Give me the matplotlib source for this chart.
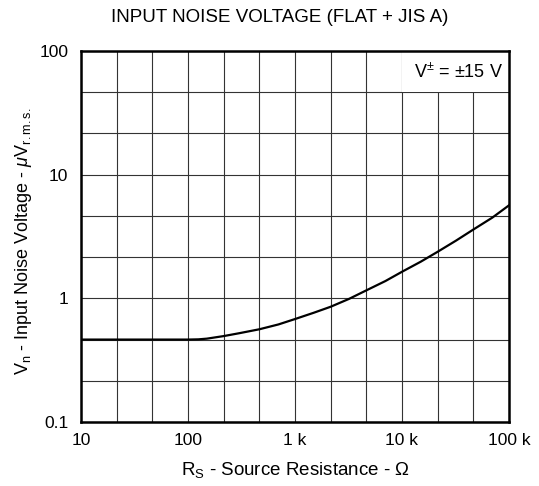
import numpy as np
import matplotlib
matplotlib.use("Agg")
import matplotlib.pyplot as plt
from matplotlib.patches import Rectangle

plt.rcParams['font.family'] = ['Liberation Sans', 'DejaVu Sans']
plt.rcParams['mathtext.fontset'] = 'custom'
plt.rcParams['mathtext.rm'] = 'Liberation Sans'
plt.rcParams['mathtext.it'] = 'Liberation Sans:italic'
plt.rcParams['mathtext.bf'] = 'Liberation Sans:bold'

# Data
rs_ohm = [10, 100, 125, 150, 215, 300, 464, 700, 1000, 1500, 2154, 3200,
          4642, 7000, 10000, 15000, 21544, 32000, 46416, 70000, 100000]
vn_uv = [0.464, 0.464, 0.466, 0.472, 0.495, 0.522, 0.562, 0.615, 0.68, 0.765,
         0.855, 0.99, 1.16, 1.38, 1.64, 1.98, 2.38, 2.93, 3.6, 4.5, 5.65]

x_major = [10, 100, 1000, 10000, 100000]
x_major_labels = ['10', '100', '1 k', '10 k', '100 k']
y_major = [0.1, 1, 10, 100]
y_major_labels = ['0.1', '1', '10', '100']

fig = plt.figure(figsize=(5.39, 4.86), dpi=100)
ax = fig.add_axes([81/539, 1-422/486, (509-81)/539, (422-51)/486])

ax.set_xscale('log')
ax.set_yscale('log')
ax.set_xlim(10, 100000)
ax.set_ylim(0.1, 100)


def label_for(v, majors, labels):
    for m, l in zip(majors, labels):
        if abs(v - m) / m < 1e-6:
            return l
    return ''


xg = 10 ** (1 + np.arange(13) / 3)
yg = 10 ** (-1 + np.arange(10) / 3)
ax.xaxis.set_minor_locator(matplotlib.ticker.NullLocator())
ax.yaxis.set_minor_locator(matplotlib.ticker.NullLocator())
ax.set_xticks(xg)
ax.set_xticklabels([label_for(v, x_major, x_major_labels) for v in xg])
ax.set_yticks(yg)
ax.set_yticklabels([label_for(v, y_major, y_major_labels) for v in yg])
ax.tick_params(axis='both', length=0, labelsize=12.5)
ax.tick_params(axis='x', pad=8)
ax.tick_params(axis='y', pad=9)

ax.set_axisbelow(True)
ax.grid(True, color='#333333', linewidth=0.8)

for s in ax.spines.values():
    s.set_linewidth(1.8)
    s.set_color('black')

ax.add_patch(Rectangle((0.75, 8/9), 0.25, 1/9, transform=ax.transAxes,
                       facecolor='white', edgecolor='none', zorder=1))

ax.plot(rs_ohm, vn_uv, color='black', linewidth=1.6, zorder=2)

ax.text(0.985, 17/18, r'V$^{\pm}$ = $\pm$15 V', transform=ax.transAxes,
        ha='right', va='center', fontsize=13, zorder=3)

fig.text(280/539, 1-18/486, 'INPUT NOISE VOLTAGE (FLAT + JIS A)', ha='center',
         va='center', fontsize=13.5)
fig.text(295/539, 1-470/486, r'R$_\mathregular{S}$ - Source Resistance - $\Omega$',
         ha='center', va='center', fontsize=13.5)
fig.text(24/539, 1-241/486,
         r'V$_\mathregular{n}$ - Input Noise Voltage - $\mathit{\mu}$V$_\mathregular{r.m.s.}$',
         ha='center', va='center', rotation=90, fontsize=13)

fig.savefig('out.png', dpi=100)
